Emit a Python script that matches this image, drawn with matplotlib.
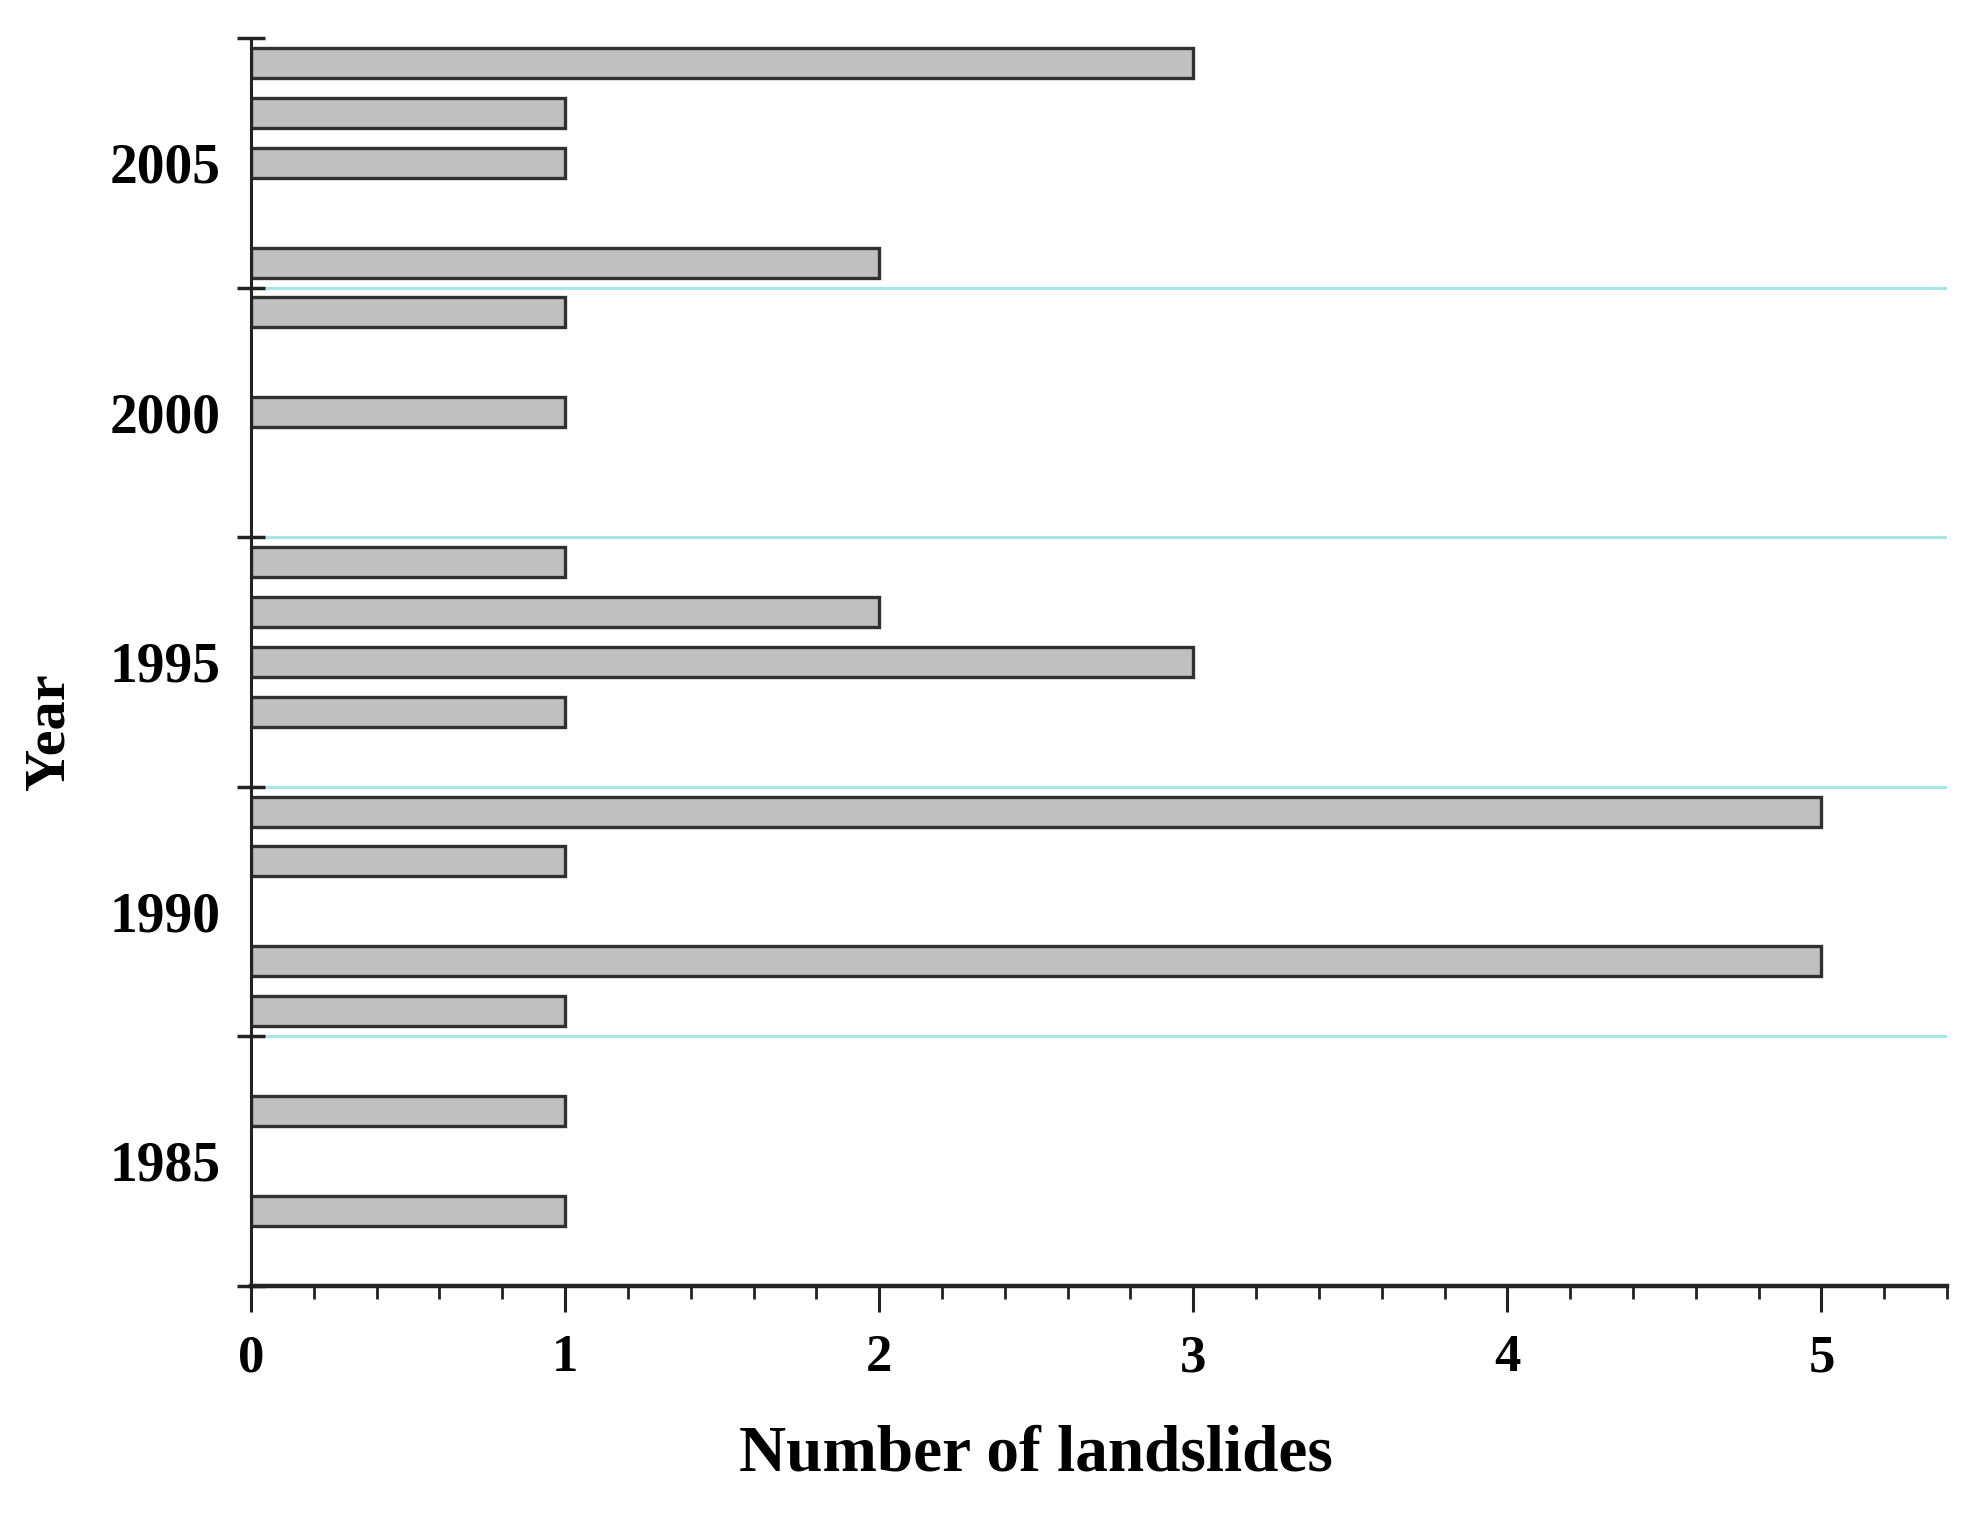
"""Landslide counts per year, horizontal bar chart."""

import matplotlib

matplotlib.use("Agg")
import matplotlib.pyplot as plt
from matplotlib.ticker import MultipleLocator

YEARS = [2007, 2006, 2005, 2003, 2002, 2000, 1997, 1996, 1995, 1994,
         1992, 1991, 1989, 1988, 1986, 1984]
LANDSLIDES = [3, 1, 1, 2, 1, 1, 1, 2, 3, 1, 5, 1, 5, 1, 1, 1]
YEAR_LABELS = [1985, 1990, 1995, 2000, 2005]
PERIOD_EDGES = [1982.5, 1987.5, 1992.5, 1997.5, 2002.5, 2007.5]

plt.rcParams["font.family"] = ["Liberation Serif", "DejaVu Serif"]
plt.rcParams["font.weight"] = "bold"

fig = plt.figure(figsize=(19.86, 15.19), dpi=100)
ax = fig.add_axes([0.1264, 0.1536, 0.854, 0.8214])

# light separators between the 5-year blocks
for edge in PERIOD_EDGES[1:-1]:
    ax.axhline(edge, color="#a6e6e6", linewidth=2.2, zorder=1)

ax.barh(YEARS, LANDSLIDES, height=0.6, color="#c0c0c0",
        edgecolor="#303030", linewidth=2.4, zorder=2)

ax.set_xlim(0, 5.4)
ax.set_ylim(PERIOD_EDGES[0], PERIOD_EDGES[-1])

ax.spines["top"].set_visible(False)
ax.spines["right"].set_visible(False)
ax.spines["left"].set_linewidth(2.2)
ax.spines["bottom"].set_linewidth(3.2)
ax.spines["left"].set_color("#222222")
ax.spines["bottom"].set_color("#222222")

ax.set_yticks(YEAR_LABELS)
ax.set_yticks(PERIOD_EDGES, minor=True)
ax.tick_params(axis="y", which="major", length=0, pad=22, labelsize=40)
ax.tick_params(axis="y", which="minor", direction="inout", length=20,
               width=2.5, color="#222222")

ax.xaxis.set_major_locator(MultipleLocator(1))
ax.xaxis.set_minor_locator(MultipleLocator(0.2))
ax.tick_params(axis="x", which="major", direction="out", length=19,
               width=2.2, pad=16, labelsize=38, color="#222222")
ax.tick_params(axis="x", which="minor", direction="out", length=9.5,
               width=2.0, color="#222222")

ax.set_xlabel("Number of landslides", fontsize=47, fontweight="bold",
              va="center")
ax.xaxis.set_label_coords(0.463, -0.135)
ax.set_ylabel("Year", fontsize=42, fontweight="bold", va="center",
              ha="center")
ax.yaxis.set_label_coords(-0.119, 0.444)

fig.savefig("out.png", dpi=100)
